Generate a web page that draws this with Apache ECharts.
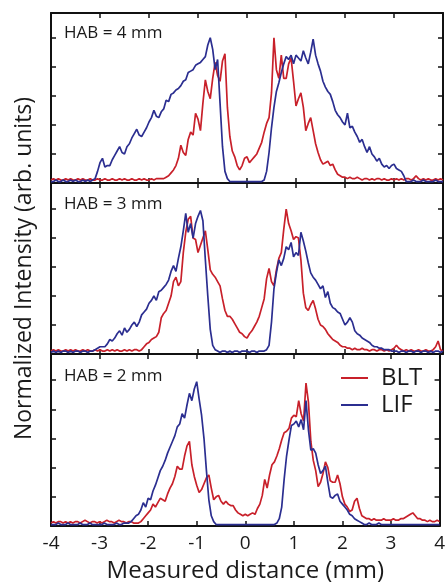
<!DOCTYPE html>
<html><head><meta charset="utf-8">
<script src="https://cdn.jsdelivr.net/npm/echarts@6/dist/echarts.min.js"></script>
<style>html,body{margin:0;padding:0;background:#fff}#c{width:448px;height:584px}</style>
</head><body><div id="c"></div>
<script>
// x sample positions (mm)
const xs = [-4,-3.95,-3.9,-3.85,-3.8,-3.75,-3.7,-3.65,-3.6,-3.55,-3.5,-3.45,-3.4,-3.35,-3.3,-3.25,-3.2,-3.15,-3.1,-3.05,
-3,-2.95,-2.9,-2.85,-2.8,-2.75,-2.7,-2.65,-2.6,-2.55,-2.5,-2.45,-2.4,-2.35,-2.3,-2.25,-2.2,-2.15,-2.1,-2.05,
-2,-1.95,-1.9,-1.85,-1.8,-1.75,-1.7,-1.65,-1.6,-1.55,-1.5,-1.45,-1.4,-1.35,-1.3,-1.25,-1.2,-1.15,-1.1,-1.05,
-1,-0.95,-0.9,-0.85,-0.8,-0.75,-0.7,-0.65,-0.6,-0.55,-0.5,-0.45,-0.4,-0.35,-0.3,-0.25,-0.2,-0.15,-0.1,-0.05,
0,0.05,0.1,0.15,0.2,0.25,0.3,0.35,0.4,0.45,0.5,0.55,0.6,0.65,0.7,0.75,0.8,0.85,0.9,0.95,
1,1.05,1.1,1.15,1.2,1.25,1.3,1.35,1.4,1.45,1.5,1.55,1.6,1.65,1.7,1.75,1.8,1.85,1.9,1.95,
2,2.05,2.1,2.15,2.2,2.25,2.3,2.35,2.4,2.45,2.5,2.55,2.6,2.65,2.7,2.75,2.8,2.85,2.9,2.95,
3,3.05,3.1,3.15,3.2,3.25,3.3,3.35,3.4,3.45,3.5,3.55,3.6,3.65,3.7,3.75,3.8,3.85,3.9,3.95,4];

// HAB = 4 mm
const blt4 = [0.02,0.03,0.02,0.03,0.02,0.02,0.03,0.02,0.03,0.02,0.02,0.03,0.02,0.03,0.02,0.02,0.03,0.02,0.02,0.03,
0.02,0.02,0.03,0.02,0.02,0.03,0.02,0.02,0.03,0.02,0.03,0.02,0.02,0.03,0.02,0.02,0.03,0.02,0.03,0.02,
0.02,0.03,0.02,0.03,0.03,0.03,0.03,0.04,0.05,0.07,0.09,0.12,0.17,0.26,0.21,0.19,0.30,0.35,0.33,0.48,
0.44,0.36,0.55,0.71,0.63,0.58,0.72,0.83,0.74,0.70,0.84,0.89,0.52,0.32,0.22,0.18,0.12,0.09,0.12,0.17,
0.18,0.14,0.16,0.18,0.20,0.24,0.28,0.35,0.41,0.45,0.62,1.00,0.78,0.72,0.88,0.72,0.72,0.82,0.86,0.70,
0.53,0.58,0.62,0.52,0.36,0.41,0.45,0.36,0.27,0.21,0.16,0.13,0.14,0.15,0.12,0.13,0.09,0.06,0.05,0.04,
0.04,0.03,0.04,0.03,0.03,0.04,0.03,0.02,0.03,0.03,0.02,0.03,0.02,0.03,0.03,0.02,0.03,0.02,0.02,0.03,
0.02,0.03,0.02,0.03,0.02,0.03,0.03,0.02,0.03,0.05,0.03,0.02,0.03,0.02,0.03,0.02,0.02,0.03,0.02,0.03,0.02];
const lif4 = [0.01,0.01,0.02,0.01,0.01,0.02,0.01,0.01,0.02,0.01,0.02,0.01,0.01,0.02,0.01,0.02,0.01,0.02,0.03,0.08,
0.14,0.17,0.11,0.12,0.12,0.16,0.19,0.22,0.25,0.21,0.20,0.25,0.27,0.31,0.34,0.37,0.33,0.32,0.35,0.38,
0.42,0.45,0.50,0.46,0.45,0.49,0.51,0.57,0.56,0.61,0.62,0.64,0.65,0.67,0.70,0.71,0.76,0.77,0.78,0.81,
0.82,0.83,0.85,0.87,0.95,1.00,0.92,0.78,0.85,0.55,0.25,0.08,0.03,0.01,0.01,0.01,0.01,0.01,0.01,0.01,
0.01,0.01,0.01,0.01,0.01,0.01,0.01,0.02,0.08,0.21,0.38,0.52,0.63,0.69,0.76,0.82,0.87,0.85,0.88,0.82,
0.88,0.86,0.84,0.91,0.86,0.82,0.90,0.99,0.88,0.82,0.77,0.70,0.66,0.63,0.61,0.56,0.50,0.47,0.45,0.42,
0.40,0.48,0.38,0.39,0.35,0.32,0.28,0.30,0.25,0.21,0.25,0.20,0.18,0.15,0.17,0.13,0.11,0.12,0.10,0.12,
0.13,0.10,0.09,0.08,0.05,0.01,0.01,0.01,0.02,0.01,0.01,0.01,0.02,0.01,0.01,0.01,0.01,0.02,0.01,0.01,0.01];

// HAB = 3 mm
const blt3 = [0.02,0.03,0.02,0.03,0.02,0.02,0.03,0.02,0.03,0.02,0.03,0.02,0.02,0.03,0.02,0.03,0.02,0.02,0.03,0.02,
0.03,0.02,0.02,0.03,0.02,0.03,0.02,0.03,0.02,0.02,0.03,0.02,0.03,0.02,0.03,0.03,0.02,0.03,0.05,0.07,
0.08,0.10,0.11,0.12,0.15,0.25,0.28,0.30,0.35,0.40,0.50,0.53,0.47,0.50,0.70,0.84,0.93,0.95,0.80,0.79,
0.70,0.75,0.80,0.85,0.72,0.58,0.55,0.53,0.50,0.47,0.38,0.30,0.26,0.26,0.24,0.21,0.18,0.15,0.14,0.12,
0.11,0.14,0.16,0.19,0.22,0.26,0.32,0.38,0.52,0.59,0.50,0.47,0.58,0.66,0.70,0.86,1.00,0.90,0.85,0.79,
0.81,0.80,0.65,0.42,0.32,0.30,0.34,0.37,0.31,0.24,0.20,0.19,0.17,0.14,0.12,0.10,0.09,0.08,0.06,0.05,
0.05,0.04,0.04,0.03,0.04,0.03,0.03,0.04,0.03,0.03,0.02,0.03,0.03,0.02,0.03,0.03,0.02,0.03,0.02,0.03,
0.04,0.06,0.04,0.03,0.02,0.03,0.02,0.03,0.02,0.02,0.03,0.02,0.02,0.03,0.02,0.02,0.03,0.05,0.09,0.03,0.02];
const lif3 = [0.01,0.02,0.01,0.02,0.01,0.02,0.02,0.01,0.02,0.01,0.02,0.02,0.01,0.02,0.02,0.01,0.02,0.02,0.03,0.04,
0.05,0.05,0.05,0.07,0.10,0.09,0.11,0.14,0.16,0.13,0.18,0.15,0.17,0.20,0.22,0.19,0.22,0.27,0.29,0.31,
0.35,0.37,0.40,0.37,0.43,0.44,0.46,0.48,0.51,0.57,0.61,0.57,0.66,0.74,0.85,0.97,0.84,0.90,0.80,0.90,
0.95,0.99,0.92,0.65,0.40,0.17,0.06,0.03,0.02,0.01,0.02,0.02,0.01,0.02,0.01,0.02,0.02,0.01,0.02,0.02,
0.02,0.01,0.02,0.02,0.01,0.02,0.02,0.02,0.03,0.06,0.22,0.45,0.56,0.65,0.61,0.66,0.74,0.72,0.77,0.67,
0.70,0.68,0.84,0.78,0.71,0.63,0.56,0.53,0.51,0.48,0.45,0.47,0.39,0.43,0.35,0.32,0.31,0.29,0.28,0.24,
0.20,0.22,0.25,0.22,0.16,0.14,0.13,0.11,0.10,0.09,0.08,0.06,0.05,0.05,0.04,0.04,0.03,0.03,0.03,0.02,
0.02,0.02,0.01,0.02,0.02,0.01,0.02,0.02,0.01,0.02,0.02,0.01,0.02,0.02,0.01,0.02,0.01,0.02,0.02,0.01,0.02];

// HAB = 2 mm
const blt2 = [0.02,0.03,0.02,0.03,0.03,0.02,0.03,0.02,0.03,0.02,0.03,0.03,0.02,0.03,0.04,0.03,0.02,0.03,0.03,0.02,
0.03,0.02,0.03,0.04,0.03,0.03,0.02,0.03,0.04,0.03,0.03,0.02,0.03,0.03,0.02,0.02,0.02,0.03,0.05,0.07,
0.09,0.11,0.15,0.13,0.16,0.19,0.18,0.17,0.22,0.26,0.29,0.34,0.41,0.39,0.39,0.48,0.55,0.58,0.42,0.34,
0.28,0.23,0.25,0.29,0.33,0.35,0.26,0.18,0.20,0.21,0.17,0.15,0.17,0.15,0.14,0.14,0.11,0.09,0.08,0.07,
0.08,0.07,0.08,0.09,0.08,0.12,0.15,0.21,0.32,0.26,0.35,0.42,0.44,0.48,0.53,0.59,0.64,0.65,0.67,0.74,
0.76,0.75,0.86,0.77,0.72,0.98,0.85,0.58,0.45,0.38,0.27,0.30,0.36,0.44,0.40,0.31,0.30,0.30,0.35,0.29,
0.20,0.15,0.13,0.10,0.11,0.17,0.19,0.12,0.07,0.06,0.05,0.05,0.04,0.05,0.04,0.04,0.04,0.05,0.04,0.04,
0.04,0.05,0.04,0.04,0.05,0.05,0.06,0.07,0.08,0.09,0.07,0.05,0.05,0.04,0.04,0.03,0.04,0.03,0.03,0.04,0.03];
const lif2 = [0.01,0.01,0.01,0.02,0.01,0.01,0.01,0.02,0.01,0.01,0.01,0.01,0.02,0.01,0.01,0.01,0.02,0.01,0.01,0.01,
0.01,0.01,0.02,0.01,0.01,0.01,0.01,0.02,0.01,0.01,0.02,0.02,0.02,0.03,0.05,0.07,0.08,0.11,0.16,0.13,
0.19,0.18,0.24,0.28,0.33,0.38,0.41,0.45,0.50,0.54,0.58,0.62,0.68,0.70,0.77,0.74,0.83,0.91,0.86,0.94,
0.99,0.87,0.76,0.60,0.38,0.18,0.07,0.03,0.01,0.01,0.01,0.01,0.01,0.01,0.01,0.01,0.01,0.01,0.01,0.01,
0.01,0.01,0.01,0.01,0.01,0.01,0.01,0.01,0.01,0.01,0.01,0.01,0.01,0.02,0.05,0.13,0.32,0.48,0.59,0.69,
0.70,0.72,0.68,0.73,0.66,0.86,0.66,0.52,0.53,0.50,0.42,0.36,0.38,0.41,0.30,0.20,0.19,0.21,0.22,0.17,
0.15,0.13,0.11,0.08,0.07,0.05,0.04,0.03,0.02,0.01,0.01,0.02,0.01,0.01,0.01,0.02,0.01,0.01,0.01,0.01,
0.01,0.01,0.01,0.01,0.01,0.01,0.01,0.01,0.01,0.01,0.01,0.01,0.01,0.01,0.01,0.01,0.01,0.01,0.01,0.01,0.01];

const panelLabels = ['HAB = 4 mm', 'HAB = 3 mm', 'HAB = 2 mm'];
const seriesNames = ['BLT', 'LIF'];
const panels = [[blt4, lif4], [blt3, lif3], [blt2, lif2]];
const xTitle = 'Measured distance (mm)';
const yTitle = 'Normalized Intensity (arb. units)';

const RED = '#c8202a', BLUE = '#2b2e90';
const FONT = 'Open Sans';
const grids = [
  {left: 51, right: 5, top: 13, height: 170},
  {left: 51, right: 5, top: 183, height: 171},
  {left: 51, right: 5, top: 354, height: 173}
];
const yMax = [1.17, 1.18, 1.18];
const labelTops = [25, 196, 368];

const axisLine = {show: true, onZero: false, lineStyle: {color: '#111', width: 2}};
const tick = {show: true, inside: true, length: 5, lineStyle: {color: '#111', width: 1.5}};

const xAxes = [], yAxes = [], series = [];
grids.forEach((g, i) => {
  const last = i === grids.length - 1;
  xAxes.push({
    gridIndex: i, type: 'value', min: -4, max: 4, interval: 1, position: 'bottom',
    axisLine, axisTick: tick, splitLine: {show: false},
    axisLabel: {show: last, fontFamily: FONT, fontSize: 19, color: '#1a1a1a', margin: 8},
    name: last ? xTitle : '', nameLocation: 'middle', nameGap: 33,
    nameTextStyle: {fontFamily: FONT, fontSize: 24, color: '#1a1a1a'}
  });
  xAxes.push({
    gridIndex: i, type: 'value', min: -4, max: 4, interval: 1, position: 'top',
    axisLine, axisTick: tick, splitLine: {show: false}, axisLabel: {show: false}
  });
  yAxes.push({
    gridIndex: i, type: 'value', min: 0, max: yMax[i], interval: 0.2, position: 'left',
    axisLine, axisTick: tick, splitLine: {show: false}, axisLabel: {show: false},
    name: i === 1 ? yTitle : '', nameLocation: 'middle', nameGap: 15,
    nameTextStyle: {fontFamily: FONT, fontSize: 23, color: '#1a1a1a'}
  });
  yAxes.push({
    gridIndex: i, type: 'value', min: 0, max: yMax[i], interval: 0.2, position: 'right',
    axisLine, axisTick: tick, splitLine: {show: false}, axisLabel: {show: false}
  });
  panels[i].forEach((arr, k) => {
    series.push({
      name: seriesNames[k], type: 'line', xAxisIndex: i * 2, yAxisIndex: i * 2,
      data: xs.map((x, j) => [x, arr[j]]),
      showSymbol: false, symbol: 'none', silent: true, animation: false,
      lineStyle: {color: k === 0 ? RED : BLUE, width: 1.7},
      itemStyle: {color: k === 0 ? RED : BLUE},
      z: k === 0 ? 3 : 4
    });
  });
});

const chart = echarts.init(document.getElementById('c'), null, {renderer: 'canvas'});
chart.setOption({
  animation: false,
  backgroundColor: '#fff',
  grid: grids,
  xAxis: xAxes,
  yAxis: yAxes,
  series,
  title: panelLabels.map((t, i) => ({
    text: t, left: 64, top: labelTops[i], padding: 0,
    textStyle: {fontFamily: FONT, fontSize: 17, fontWeight: 'normal', color: '#1a1a1a'}
  })),
  legend: {
    data: seriesNames, orient: 'vertical', left: 341, top: 366, itemGap: 3, padding: 0,
    icon: 'rect', itemWidth: 27, itemHeight: 2,
    textStyle: {fontFamily: FONT, fontSize: 24, color: '#1a1a1a', lineHeight: 20, padding: [0, 0, 0, 8]}
  }
});
</script></body></html>
